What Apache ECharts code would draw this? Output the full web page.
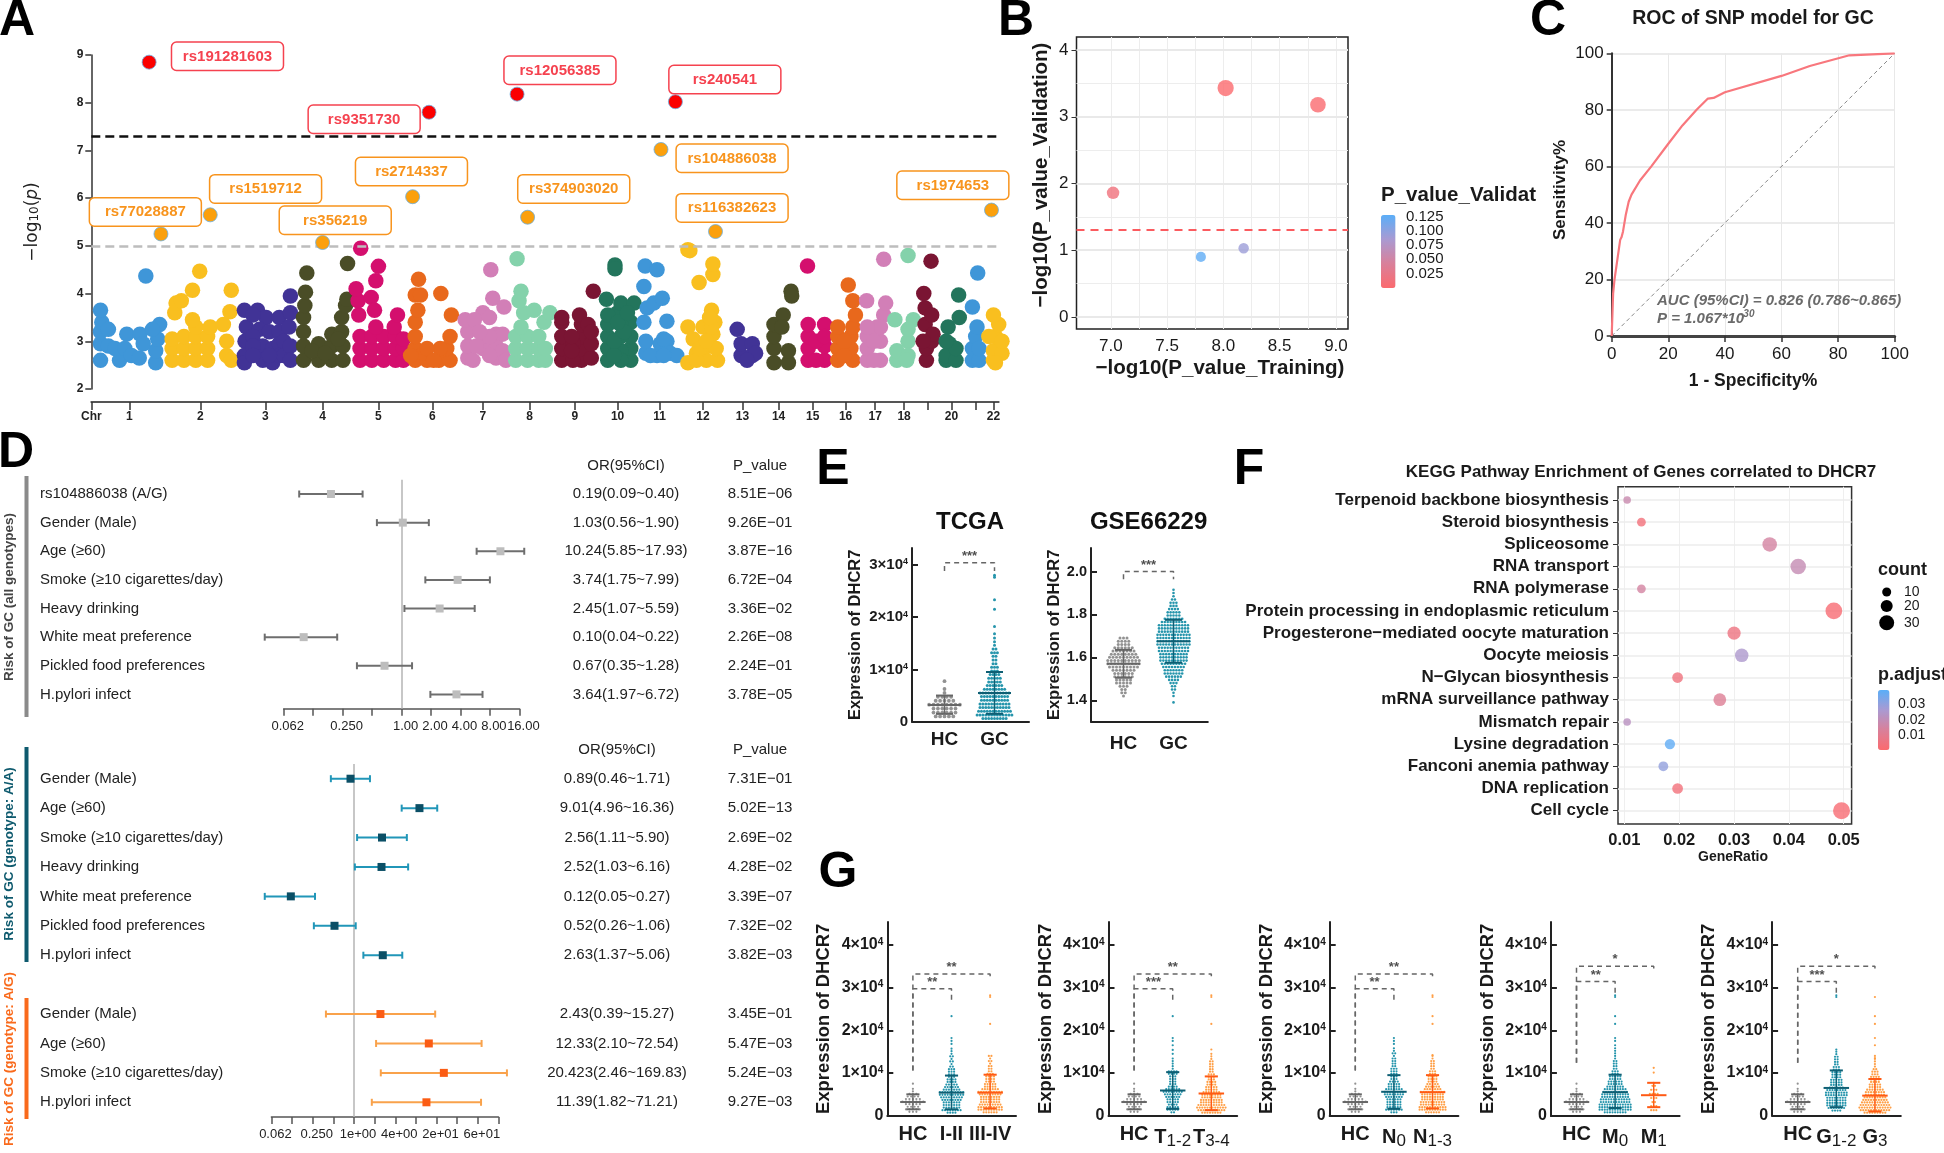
<!DOCTYPE html>
<html>
<head>
<meta charset="utf-8">
<title>DHCR7 figure</title>
<script src="https://cdn.jsdelivr.net/npm/echarts@6/dist/echarts.min.js"></script>
<style>html,body{margin:0;background:#fff}#main{width:1944px;height:1153px}</style>
</head>
<body>
<div id="main"></div>
<script>
// ---- A: manhattan points, [position along genome, -log10 p], one list per chromosome
var chr1 = [[153,2.6],[153,2.95],[153,3.2],[155,3.4],[153,3.65],[165,3.25],[165,2.9],[182,2.6],[175,2.85],[193,3.15],[190,2.85],[200,2.7],[212,2.65],[213,3.15],[218,2.95],[237,2.55],[237,2.8],[240,3.05],[243,3.35],[232,3.25],[222,4.37]];
var chr2 = [[262,2.6],[280,2.6],[298,2.6],[316,2.6],[262,2.85],[280,2.85],[298,2.85],[316,2.85],[262,3.05],[280,3.1],[298,3.1],[316,3.1],[298,3.3],[293,3.45],[320,3.3],[340,3.35],[350,3.62],[345,3.0],[345,2.7],[352,2.6],[266,3.6],[268,3.8],[276,3.85],[293,4.07],[304,4.47],[352,4.07]];
var chr3 = [[372,3.65],[375,3.3],[373,3.0],[372,2.7],[372,2.55],[392,3.65],[405,3.5],[395,3.25],[410,3.2],[400,2.9],[400,2.6],[415,2.85],[415,2.55],[425,3.5],[425,3.2],[425,2.95],[425,2.7],[432,3.0],[432,2.7],[442,3.95],[442,3.6],[440,3.3],[442,2.9],[442,2.6],[385,3.55],[385,3.1],[385,2.9],[385,2.7],[410,2.7]];
var chr4 = [[462,2.6],[462,2.9],[462,3.2],[462,3.5],[464,3.75],[465,4.03],[467,4.43],[485,2.6],[485,2.95],[505,2.6],[505,2.9],[505,3.15],[522,2.6],[522,2.9],[520,3.2],[520,3.5],[526,3.75],[528,3.88],[529,4.63],[475,2.8],[495,2.75],[515,3.05]];
var chr5 = [[548,2.6],[566,2.6],[584,2.6],[602,2.6],[614,2.6],[548,2.85],[566,2.85],[584,2.85],[602,2.85],[614,2.85],[548,3.1],[566,3.1],[584,3.1],[602,3.1],[614,3.05],[546,3.55],[545,3.85],[542,4.1],[565,3.92],[572,3.3],[570,3.65],[572,4.27],[576,4.57],[549,4.95],[600,3.3],[605,3.55]];
var chr6 = [[632,2.6],[632,2.85],[632,3.1],[632,3.4],[636,3.65],[632,3.97],[640,3.97],[637,4.3],[671,4.0],[687,3.55],[650,2.6],[668,2.6],[685,2.6],[680,2.85],[685,3.1],[670,2.85],[645,2.75],[650,2.85],[625,2.7],[660,2.6]];
var chr7 = [[712,2.65],[712,2.9],[712,3.2],[708,3.45],[735,3.6],[722,3.45],[745,3.5],[750,3.9],[747,4.5],[767,3.72],[720,2.6],[735,2.85],[735,3.1],[755,2.65],[755,2.9],[755,3.15],[765,3.15],[765,2.8],[770,2.6],[725,2.9],[745,2.7],[745,3.1],[730,3.2]];
var chr8 = [[785,2.6],[803,2.6],[820,2.6],[830,2.6],[785,2.85],[803,2.85],[820,2.85],[830,2.85],[785,3.1],[803,3.1],[820,3.1],[793,3.3],[797,3.6],[790,3.85],[793,4.05],[813,3.65],[828,3.4],[837,3.6],[787,4.73]];
var chr9 = [[855,2.6],[855,2.85],[855,3.1],[855,3.4],[855,3.5],[885,2.6],[885,2.85],[885,3.1],[885,3.35],[882,3.55],[895,3.35],[872,2.6],[872,2.95],[900,2.65],[900,2.95],[900,3.2],[903,4.05],[870,2.8],[870,3.1]];
var chr10 = [[925,2.6],[925,2.85],[925,3.1],[925,3.35],[923,3.88],[940,3.6],[945,3.8],[965,3.8],[936,4.6],[936,4.52],[960,2.6],[960,2.85],[960,3.1],[960,3.4],[945,2.8],[945,3.1],[945,2.6],[945,3.35],[935,2.7],[935,3.0],[950,3.2],[925,3.55],[940,3.4],[955,3.6]];
var chr11 = [[983,2.75],[983,3.0],[980,3.4],[985,3.7],[995,3.8],[1008,3.9],[980,4.15],[982,4.58],[1000,4.5],[1015,3.42],[1000,2.7],[1015,3.0],[1020,2.75],[1030,2.7],[1005,2.95],[990,2.7],[1010,2.7],[1010,3.05]];
var chr12 = [[1047,2.55],[1047,3.3],[1055,3.05],[1060,2.75],[1075,2.6],[1080,2.9],[1085,3.15],[1088,3.4],[1083,3.65],[1092,2.6],[1090,2.85],[1064,4.23],[1085,4.4],[1085,4.62],[1047,4.92],[1050,4.9],[1070,3.3],[1060,2.6],[1065,2.85],[1075,3.0],[1083,3.3],[1080,3.5]];
var chr13 = [[1122,3.25],[1128,2.7],[1128,2.95],[1145,2.95],[1145,2.7],[1150,2.75],[1137,2.6]];
var chr14 = [[1178,2.55],[1178,2.85],[1178,3.1],[1178,3.35],[1192,3.55],[1204,4.05],[1205,3.95],[1200,2.55],[1200,2.8],[1190,3.3]];
var chr15 = [[1230,2.6],[1230,2.85],[1230,3.1],[1230,3.35],[1255,2.6],[1255,2.9],[1255,3.35],[1229,4.58],[1242,2.6],[1242,3.0],[1255,3.1]];
var chr16 = [[1275,2.6],[1275,2.85],[1275,3.1],[1275,3.3],[1298,2.6],[1295,2.85],[1295,3.1],[1298,3.3],[1302,3.55],[1298,3.85],[1291,4.18],[1285,2.7],[1285,3.0]];
var chr17 = [[1320,2.6],[1320,2.85],[1320,3.1],[1335,3.3],[1340,2.6],[1340,3.0],[1345,3.55],[1319,3.85],[1348,3.8],[1345,4.72],[1330,2.6],[1330,3.0],[1340,3.3],[1320,3.3]];
var chr18 = [[1365,2.6],[1365,2.8],[1382,3.0],[1382,2.7],[1362,3.45],[1390,3.45],[1382,3.25],[1382,4.8],[1380,2.6]];
var chr19 = [[1410,2.6],[1410,2.85],[1418,3.0],[1408,3.35],[1408,3.7],[1418,3.55],[1406,4.0],[1417,4.68],[1420,3.15],[1405,3.0]];
var chr20 = [[1440,2.6],[1445,2.95],[1440,2.7],[1455,2.6],[1443,3.3],[1460,3.5],[1459,3.97],[1455,2.85],[1440,3.0]];
var chr21 = [[1480,2.6],[1480,2.85],[1485,3.1],[1487,3.3],[1480,3.72],[1488,4.43],[1490,2.6],[1490,2.85]];
var chr22 = [[1512,2.6],[1512,2.8],[1515,3.1],[1520,3.35],[1512,3.55],[1505,3.1],[1525,2.75],[1515,2.55],[1525,3.0]];
var chromosomes = [chr1,chr2,chr3,chr4,chr5,chr6,chr7,chr8,chr9,chr10,chr11,chr12,chr13,chr14,chr15,chr16,chr17,chr18,chr19,chr20,chr21,chr22];
var chrColors = ['#3f96d8','#f9bf1f','#413396','#4a4d27','#d40f6e','#e8681c','#d27fb7','#84d2ab','#7a1533','#23755c'];
var genomeWideHits = [[227,8.85],[653,7.8],[787,8.18],[1028,8.02]];
var suggestiveHits = [[245,5.25],[320,5.65],[491,5.07],[628,6.03],[803,5.6],[1006,7.02],[1089,5.3],[1509,5.75]];
var chrTicks = [139,197,305,404,491,576,658,735,806,875,940,1004,1070,1130,1185,1237,1287,1332,1376,1412,1448,1485,1512];
var chrTickLabels = ['Chr','1','2','3','4','5','6','7','8','9','10','11','12','13','14','15','16','17','18','','20','','22'];

// ---- B
var trainingLogP = [7.02,7.8,8.02,8.18,8.84];
var validationLogP = [1.86,0.9,3.43,1.03,3.18];
var validationP = [0.0138,0.126,0.0004,0.093,0.00066];

// ---- C
var rocFpr = [0,0.5,1,2,3,3.5,4,5,6,7,10,14,20,25,30,34,36,40,60,70,84,100];
var rocTpr = [0,15,20,27,34,35,37,43,47.5,50,55,60,68,74.5,80,84,84.2,86.2,92,95.5,99.3,100];

// ---- D: [OR, low, high], text columns as printed
var allRows = ['rs104886038 (A/G)','Gender (Male)','Age (≥60)','Smoke (≥10 cigarettes/day)','Heavy drinking','White meat preference','Pickled food preferences','H.pylori infect'];
var allOr = [[0.19,0.09,0.40],[1.03,0.56,1.90],[10.24,5.85,17.93],[3.74,1.75,7.99],[2.45,1.07,5.59],[0.10,0.04,0.22],[0.67,0.35,1.28],[3.64,1.97,6.72]];
var allOrText = ['0.19(0.09~0.40)','1.03(0.56~1.90)','10.24(5.85~17.93)','3.74(1.75~7.99)','2.45(1.07~5.59)','0.10(0.04~0.22)','0.67(0.35~1.28)','3.64(1.97~6.72)'];
var allP = ['8.51E−06','9.26E−01','3.87E−16','6.72E−04','3.36E−02','2.26E−08','2.24E−01','3.78E−05'];
var subRows = ['Gender (Male)','Age (≥60)','Smoke (≥10 cigarettes/day)','Heavy drinking','White meat preference','Pickled food preferences','H.pylori infect','','Gender (Male)','Age (≥60)','Smoke (≥10 cigarettes/day)','H.pylori infect'];
var aaOr = [[0.89,0.46,1.71],[9.01,4.96,16.36],[2.56,1.11,5.90],[2.52,1.03,6.16],[0.12,0.05,0.27],[0.52,0.26,1.06],[2.63,1.37,5.06]];
var agOr = [[2.43,0.39,15.27],[12.33,2.10,72.54],[20.423,2.46,169.83],[11.39,1.82,71.21]];
var subOrText = ['0.89(0.46~1.71)','9.01(4.96~16.36)','2.56(1.11~5.90)','2.52(1.03~6.16)','0.12(0.05~0.27)','0.52(0.26~1.06)','2.63(1.37~5.06)','','2.43(0.39~15.27)','12.33(2.10~72.54)','20.423(2.46~169.83)','11.39(1.82~71.21)'];
var subP = ['7.31E−01','5.02E−13','2.69E−02','4.28E−02','3.39E−07','7.32E−02','3.82E−03','','3.45E−01','5.47E−03','5.24E−03','9.27E−03'];
var allTickLabels = ['0.062','','0.250','','1.00','2.00','4.00','8.00','16.00'];
var subTickLabels = ['0.062','','0.250','','1e+00','','4e+00','','2e+01','','6e+01',''];

// ---- E: swarm rows, number of dots in each row
var tcgaHc = [5,6,6,8,5,4,1,1,0,1];
var tcgaGc = [9,13,12,11,11,10,10,11,8,6,5,5,4,3,3,2,2,2,3,2,1,1,1];
var tcgaGcTop = [16800,18200,21500,23300,27600,28000];
var gseHc = [1,2,2,3,5,5,6,6,7,9,10,10,9,8,7,6,4,4,3];
var gseGc = [1,0,1,1,2,2,3,4,6,7,7,8,9,10,10,10,11,11,12,12,12,12,11,11,11,9,7,5,5,4,3,3,2,1,1,1];

// ---- F
var keggTerms = ['Terpenoid backbone biosynthesis','Steroid biosynthesis','Spliceosome','RNA transport','RNA polymerase','Protein processing in endoplasmic reticulum','Progesterone−mediated oocyte maturation','Oocyte meiosis','N−Glycan biosynthesis','mRNA surveillance pathway','Mismatch repair','Lysine degradation','Fanconi anemia pathway','DNA replication','Cell cycle'];
var keggRatio = [0.0105,0.0131,0.0365,0.0417,0.0131,0.0482,0.0300,0.0314,0.0197,0.0274,0.0105,0.0183,0.0171,0.0197,0.0496];
var keggCount = [6,8,22,25,8,29,18,19,12,17,6,11,10,12,30];
var keggPadj = [0.018,0.004,0.015,0.019,0.015,0.002,0.006,0.025,0.005,0.012,0.022,0.038,0.030,0.004,0.002];

// ---- G
var hcRows = [3,5,4,5,7,5,4,3,1,1,0,1];
var stageEarly = [4,8,7,7,7,8,9,10,10,7,6,5,4,4,3,3,3,3,2,1,2,1,2,1,1];
var stageEarlyTop = [15700,16800,17500,18200,23300];
var stageLate = [6,10,10,9,8,8,8,9,10,7,5,5,4,4,4,3,2,2,2,1,2,1,2];
var stageLateTop = [21500,27800,28200];
var t12 = [2,5,5,4,5,5,6,7,8,6,4,3,3,3,3,4,4,1,1,1,1,1];
var t12Top = [14500,15400,16500,17500,18200,23300];
var t34 = [8,11,12,11,9,9,8,8,7,5,5,4,4,3,3,3,2,2,2,2,2,1,1];
var t34Top = [14500,15500,21500,27800,28200];
var n0 = [3,7,6,6,6,6,7,8,8,7,5,5,4,3,3,3,3,3,2,2,2,2,1,2,1];
var n0Top = [15800,16800,17500,18200];
var n13 = [6,11,11,10,10,9,9,9,10,7,6,5,4,4,4,3,3,2,2,2,2,1,1];
var n13Top = [14200,21500,23300,27800,28200];
var m0 = [9,13,13,13,12,12,11,11,10,9,7,6,6,5,5,3,3,2,2,2,2,1,1,1,1,1];
var m0Top = [16500,17500,18200,21500,23300,27800,28200];
var m1 = [3,3,2,3,4,3,2];
var m1Top = [7700,10100,11200];
var g12 = [4,7,8,8,8,8,9,9,8,6,5,5,5,4,4,4,3,3,2,2,2,2,1,1];
var g12Top = [15500,27800,28200];
var g3 = [9,12,13,12,11,10,9,8,8,7,5,5,4,4,4,3,3,2,1,1,1,1];
var g3Top = [13500,14000,16500,18200,21500,23300,27800];
// mean, low and high of the error bars
var hcBar = [3200,1500,5000];
var tcgaGcBar = [5500,1500,9500];
var gseHcBar = [1.57,1.505,1.635];
var gseGcBar = [1.675,1.575,1.775];

var FONT = '"Liberation Sans", Arial, sans-serif';
var GREY = '#8c8c8c', GREYBAR = '#666666', TEAL = '#1a8fa8', TEALBAR = '#0e5f74', ORANGE = '#ff9a3c', ORANGEBAR = '#ff5a14';

var option = {
    animation: false,
    backgroundColor: '#fff',
    textStyle: {fontFamily: FONT},
    grid: [], xAxis: [], yAxis: [], series: [], visualMap: [],
    graphic: {elements: []}
};
var gfx = option.graphic.elements;

function addPanel(box, x, ys) {
    var g = option.grid.length;
    box.containLabel = false;
    option.grid.push(box);
    x.gridIndex = g;
    option.xAxis.push(x);
    var xi = option.xAxis.length - 1, yi = option.yAxis.length;
    ys.forEach(function (y) { y.gridIndex = g; option.yAxis.push(y); });
    return {xAxisIndex: xi, yAxisIndex: yi};
}
function addSeries(panel, s) {
    s.xAxisIndex = panel.xAxisIndex;
    s.yAxisIndex = panel.yAxisIndex;
    option.series.push(s);
    return option.series.length - 1;
}
function text(x, y, str, font, fill, opt) {
    opt = opt || {};
    gfx.push({
        type: 'text', x: x, y: y, rotation: opt.rotate ? Math.PI / 2 : 0, z: 100,
        style: {text: str, font: font + ' ' + FONT, fill: fill || '#1a1a1a', textAlign: opt.align || 'center', textVerticalAlign: 'middle'}
    });
}
function rect(x, y, w, h, fill) {
    gfx.push({type: 'rect', shape: {x: x, y: y, width: w, height: h}, style: {fill: fill}, z: 100});
}
function gridLines(panel, key, values, color, width) {
    addSeries(panel, {
        type: 'scatter', data: [], z: 1, silent: true,
        markLine: {
            silent: true, z: 1, symbol: 'none', animation: false, label: {show: false},
            lineStyle: {color: color, width: width, type: 'solid'},
            data: values.map(function (v) { var o = {}; o[key] = v; return o; })
        }
    });
}

// panel letters
[['A',17,21],['B',1016,21],['C',1548,21],['D',16,453],['E',833,470],['F',1249,470],['G',838,873]].forEach(function (l) {
    text(l[1], l[2], l[0], 'bold 50px', '#000');
});

// ---------- A ----------
var pa = addPanel({left: 91.3, top: 55, width: 907.4, height: 334},
    {type: 'value', min: 139, max: 1520, offset: 13, splitLine: {show: false},
     axisLine: {show: true, onZero: false, lineStyle: {color: '#555', width: 2}},
     axisTick: {show: true, customValues: chrTicks, length: 8, lineStyle: {color: '#333', width: 1.5}},
     axisLabel: {customValues: chrTicks.filter(function (t, i) { return chrTickLabels[i]; }), color: '#222', fontSize: 12, fontWeight: 'bold', margin: 9,
        showMinLabel: true, showMaxLabel: true,
        formatter: function (v) { return chrTickLabels[chrTicks.indexOf(v)]; }}},
    [{type: 'value', min: 2, max: 9, interval: 1, splitLine: {show: false},
      name: '{m|−log}{s|10}{m|(}{i|p}{m|)}', nameLocation: 'middle', nameGap: 50,
      nameTextStyle: {rich: {m: {fontSize: 17, fontFamily: 'DejaVu Sans', color: '#222'}, s: {fontSize: 12, fontFamily: 'DejaVu Sans', color: '#222', verticalAlign: 'bottom', padding: [6,0,0,0]}, i: {fontSize: 17, fontFamily: 'DejaVu Sans', fontStyle: 'italic', color: '#222'}}},
      axisLine: {show: true, onZero: false, lineStyle: {color: '#333', width: 1.5}},
      axisTick: {show: true, length: 6, lineStyle: {color: '#333', width: 1.5}},
      axisLabel: {color: '#222', fontSize: 12, fontWeight: 'bold', margin: 8}}]);
chromosomes.forEach(function (pts, i) {
    addSeries(pa, {type: 'scatter', data: pts, symbolSize: 15.5, clip: false, itemStyle: {color: chrColors[i % 10], opacity: 1}, silent: true});
});
addSeries(pa, {type: 'scatter', data: [], z: 3, silent: true, markLine: {silent: true, symbol: 'none', label: {show: false},
    data: [{yAxis: 7.3, lineStyle: {color: '#111', width: 2.5, type: [9, 5]}}, {yAxis: 5, lineStyle: {color: '#bdbdbd', width: 2.5, type: [9, 5]}}]}});
addSeries(pa, {type: 'scatter', z: 6, data: genomeWideHits, symbolSize: 14, silent: true, itemStyle: {color: '#fb0000', opacity: 1, borderColor: '#6aaee2', borderWidth: 0.8}});
addSeries(pa, {type: 'scatter', z: 6, data: suggestiveHits, symbolSize: 14, silent: true, itemStyle: {color: '#fba00d', opacity: 1, borderColor: '#6aaee2', borderWidth: 0.8}});
var RED = '#f5424f', AMB = '#f8941d';
[['rs191281603',261,126,RED],['rs12056385',767,168,RED],['rs240541',1018,196,RED],['rs9351730',469,315,RED],
 ['rs104886038',1029,432,AMB],['rs2714337',541,472,AMB],['rs1519712',319,524,AMB],['rs374903020',788,524,AMB],
 ['rs1974653',1365,513,AMB],['rs77028887',136,593,AMB],['rs116382623',1029,581,AMB],['rs356219',425,618,AMB]].forEach(function (c) {
    var x = c[1] / 1.522, y = c[2] / 3;
    gfx.push({type: 'rect', z: 99, shape: {x: x, y: y, width: 112, height: 28.5, r: 5}, style: {fill: '#fff', stroke: c[3], lineWidth: 1.5}});
    text(x + 56, y + 14.5, c[0], 'bold 15px', c[3]);
});

// ---------- B ----------
var pb = addPanel({left: 1076.5, top: 37, width: 271.5, height: 292, show: true, borderColor: '#222', borderWidth: 1.5},
    {type: 'value', min: 6.695, max: 9.107, splitLine: {show: false},
     axisLine: {show: false}, axisTick: {show: true, customValues: [7,7.5,8,8.5,9], length: 5, lineStyle: {color: '#333'}},
     axisLabel: {customValues: [7,7.5,8,8.5,9], color: '#1a1a1a', fontSize: 17, margin: 9, formatter: function (v) { return v.toFixed(1); }}},
    [{type: 'value', min: -0.18, max: 4.195, splitLine: {show: false},
      axisLine: {show: false}, axisTick: {show: true, customValues: [0,1,2,3,4], length: 5, lineStyle: {color: '#333'}},
      axisLabel: {customValues: [0,1,2,3,4], color: '#1a1a1a', fontSize: 17, margin: 8}}]);
gridLines(pb, 'xAxis', [7,7.25,7.5,7.75,8,8.25,8.5,8.75,9], '#ededed', 1);
gridLines(pb, 'yAxis', [0.5,1.5,2.5,3.5], '#ededed', 1);
gridLines(pb, 'yAxis', [0,1,2,3,4], '#e9e9e9', 2);
var bIdx = addSeries(pb, {
    type: 'scatter', silent: true, z: 3,
    data: trainingLogP.map(function (x, i) { return [x, validationLogP[i], validationP[i]]; }),
    symbolSize: function (v) { return 8 + v[1] * 2.4; },
    markLine: {silent: true, symbol: 'none', label: {show: false}, lineStyle: {color: '#fb5b5f', width: 2, type: [8, 6]}, data: [{yAxis: 1.3}]}
});
option.visualMap.push({type: 'continuous', seriesIndex: bIdx, dimension: 2, min: 0, max: 0.129, left: 1381, top: 215, itemWidth: 14.5, itemHeight: 73, padding: 0, text: null, calculable: false, inRange: {color: ['#fb6a6e', '#d9809a', '#a99ad2', '#5aaef8']}});
text(1041, 175, '−log10(P_value_Validation)', 'bold 20.5px', '#1a1a1a', {rotate: true});
text(1220, 368, '−log10(P_value_Training)', 'bold 20.6px', '#1a1a1a');
text(1381, 195, 'P_value_Validat', 'bold 20.5px', '#1a1a1a', {align: 'left'});
[['0.125',217],['0.100',231],['0.075',245],['0.050',259],['0.025',274]].forEach(function (t) {
    text(1406, t[1], t[0], '15px', '#1a1a1a', {align: 'left'});
});

// ---------- C ----------
var pc = addPanel({left: 1611.7, top: 53.3, width: 283, height: 282.7},
    {type: 'value', min: 0, max: 100, interval: 20, splitLine: {show: true, lineStyle: {color: '#e8e8e8', width: 1}},
     axisLine: {show: true, onZero: false, lineStyle: {color: '#444', width: 3}}, axisTick: {show: true, length: 6, lineStyle: {color: '#333', width: 1.5}},
     axisLabel: {color: '#1a1a1a', fontSize: 17, margin: 10}},
    [{type: 'value', min: 0, max: 100, interval: 20, splitLine: {show: true, lineStyle: {color: '#e4e4e4', width: 1.5}},
      axisLine: {show: true, onZero: false, lineStyle: {color: '#333', width: 2}}, axisTick: {show: true, length: 5, lineStyle: {color: '#333', width: 1.5}},
      axisLabel: {color: '#1a1a1a', fontSize: 17, margin: 8}}]);
addSeries(pc, {type: 'line', data: [[0,0],[100,100]], showSymbol: false, silent: true, lineStyle: {color: '#888', width: 1, type: [4, 3]}});
addSeries(pc, {type: 'line', data: rocFpr.map(function (x, i) { return [x, rocTpr[i]]; }), showSymbol: false, silent: true, lineStyle: {color: '#f8777d', width: 2.2}});
text(1753, 19, 'ROC of SNP model for GC', 'bold 19.5px', '#1a1a1a');
text(1560, 190, 'Sensitivity%', 'bold 17px', '#1a1a1a', {rotate: true});
text(1753, 381, '1 - Specificity%', 'bold 17.5px', '#1a1a1a');
text(1657, 301, 'AUC (95%CI) = 0.826 (0.786~0.865)', 'italic bold 15px', '#6a6a6a', {align: 'left'});
text(1657, 319, 'P = 1.067*10', 'italic bold 15px', '#6a6a6a', {align: 'left'});
text(1740, 314, '-30', 'italic bold 10px', '#6a6a6a', {align: 'left'});

// ---------- D ----------
function forestItem(row, v) { return [Math.log2(v[0]), row, Math.log2(v[1]), Math.log2(v[2])]; }
function forestWhisker(lineColor) {
    return function (params, api) {
        var y = api.value(1);
        var a = api.coord([api.value(2), y]), b = api.coord([api.value(3), y]);
        var st = {stroke: lineColor, lineWidth: 2};
        return {type: 'group', children: [
            {type: 'line', shape: {x1: a[0], y1: a[1], x2: b[0], y2: b[1]}, style: st},
            {type: 'line', shape: {x1: a[0], y1: a[1] - 3.5, x2: a[0], y2: a[1] + 3.5}, style: st},
            {type: 'line', shape: {x1: b[0], y1: b[1] - 3.5, x2: b[0], y2: b[1] + 3.5}, style: st}
        ]};
    };
}
function forestPanel(box, xMax, tickLabels, rows, orText, pText) {
    var catAxis = function (data, pos, margin, align) {
        return {type: 'category', data: data, inverse: true, position: pos, boundaryGap: true,
            axisLine: {show: false}, axisTick: {show: false}, splitLine: {show: false},
            axisLabel: {interval: 0, color: '#222', fontSize: 15, margin: margin, align: align}};
    };
    var orX = box.orX;
    delete box.orX;
    return addPanel(box,
        {type: 'value', min: -4, max: xMax, interval: 1, splitLine: {show: false}, position: 'bottom',
         axisLine: {show: true, onZero: false, lineStyle: {color: '#555', width: 1.5}},
         axisTick: {show: true, length: 7, lineStyle: {color: '#555', width: 1.5}},
         axisLabel: {color: '#222', fontSize: 13, margin: 11, padding: [0,0,0,8], showMinLabel: true, showMaxLabel: true,
            formatter: function (v) { return tickLabels[v + 4] || ''; }}},
        [catAxis(rows, 'left', box.left - 40, 'left'),
         catAxis(orText, 'right', orX - box.left - box.width, 'center'),
         catAxis(pText, 'right', 760 - box.left - box.width, 'center')]);
}
function forestSeries(panel, items, lineColor, boxColor, refLine) {
    addSeries(panel, {type: 'custom', z: 3, silent: true, clip: false, data: items, encode: {x: 0, y: 1}, renderItem: forestWhisker(lineColor)});
    var s = {type: 'scatter', z: 4, silent: true, clip: false, data: items.map(function (d) { return [d[0], d[1]]; }), symbol: 'rect', symbolSize: 8, itemStyle: {color: boxColor, opacity: 1}};
    if (refLine) s.markLine = {silent: true, z: 1, symbol: 'none', label: {show: false}, lineStyle: {color: '#b5b5b5', width: 1.5, type: 'solid'}, data: [{xAxis: 0}]};
    addSeries(panel, s);
}
var pd1 = forestPanel({left: 283.7, top: 479.7, width: 235.7, height: 229, orX: 626}, 4, allTickLabels, allRows, allOrText, allP);
forestSeries(pd1, allOr.map(function (v, i) { return forestItem(i, v); }), '#6e6e6e', '#bdbdbd', true);
var pd2 = forestPanel({left: 271.4, top: 764, width: 227.1, height: 353, orX: 617}, 7, subTickLabels, subRows, subOrText, subP);
forestSeries(pd2, aaOr.map(function (v, i) { return forestItem(i, v); }), '#2196b8', '#0b4f66', true);
forestSeries(pd2, agOr.map(function (v, i) { return forestItem(i + 8, v); }), '#f9a24b', '#fb5c14', false);
text(626, 466, 'OR(95%CI)', '15px', '#222');
text(760, 466, 'P_value', '15px', '#222');
text(617, 750, 'OR(95%CI)', '15px', '#222');
text(760, 750, 'P_value', '15px', '#222');
rect(24.5, 476, 4, 241, '#8a8a8a');
rect(24.5, 747, 4, 215, '#0e5a6e');
rect(24.5, 998, 4, 121, '#f96a1c');
text(9, 597, 'Risk of GC (all genotypes)', 'bold 13.5px', '#444', {rotate: true});
text(9, 854, 'Risk of GC (genotype: A/A)', 'bold 13.5px', '#0e5a6e', {rotate: true});
text(9, 1059, 'Risk of GC (genotype: A/G)', 'bold 13.5px', '#f96a1c', {rotate: true});

// ---------- E and G: swarms ----------
function swarm(rows, first, step, top, center, dx) {
    var pts = [];
    rows.forEach(function (n, r) {
        for (var k = 0; k < n; k++) pts.push([center + (k - (n - 1) / 2) * dx, first + r * step]);
    });
    (top || []).forEach(function (v) { pts.push([center, v]); });
    return pts;
}
function meanBar(color) {
    return function (params, api) {
        var x = api.value(0);
        var m = api.coord([x, api.value(1)]), lo = api.coord([x, api.value(2)]), hi = api.coord([x, api.value(3)]);
        var u = api.size([1, 0])[0];
        var line = function (x1, y1, x2, y2, lw) { return {type: 'line', shape: {x1: x1, y1: y1, x2: x2, y2: y2}, style: {stroke: color, lineWidth: lw}}; };
        return {type: 'group', children: [
            line(m[0], lo[1], m[0], hi[1], 1.4),
            line(m[0] - 0.33 * u, m[1], m[0] + 0.33 * u, m[1], 2),
            line(m[0] - 0.17 * u, lo[1], m[0] + 0.17 * u, lo[1], 2),
            line(m[0] - 0.17 * u, hi[1], m[0] + 0.17 * u, hi[1], 2)
        ]};
    };
}
function groupSeries(panel, pts, bar, x, color, barColor, size) {
    addSeries(panel, {type: 'scatter', z: 2, silent: true, clip: false, data: pts, symbolSize: size, itemStyle: {color: color, opacity: 0.95}});
    addSeries(panel, {type: 'custom', z: 3, silent: true, clip: false, data: [[x, bar[0], bar[1], bar[2]]], encode: {x: 0, y: 1}, renderItem: meanBar(barColor)});
}
function bracket(panel, x1, x2, top, legLeft, legRight, stars) {
    addSeries(panel, {type: 'line', z: 4, silent: true, clip: false, showSymbol: false, data: [[x1, legLeft], [x1, top], [x2, top], [x2, legRight]], lineStyle: {color: '#666', width: 1.5, type: [5, 4]}});
    addSeries(panel, {type: 'scatter', z: 4, silent: true, clip: false, symbolSize: 0, data: [[(x1 + x2) / 2, top]],
        label: {show: true, position: 'top', distance: 0, formatter: stars, fontSize: 13, fontWeight: 'bold', color: '#222'}});
}
function expressionAxis(size, gap, ticks, fmt, rich) {
    return {type: 'value', min: ticks.min, max: ticks.max, splitLine: {show: false},
        name: 'Expression of DHCR7', nameLocation: 'middle', nameGap: gap,
        nameTextStyle: {fontSize: size.name, fontWeight: 'bold', color: '#1a1a1a'},
        axisLine: {show: true, onZero: false, lineStyle: {color: '#222', width: 2}},
        axisTick: {show: true, inside: true, customValues: ticks.values, length: 6, lineStyle: {color: '#222', width: 2}},
        axisLabel: {customValues: ticks.values, formatter: fmt, rich: rich, margin: 4, color: '#1a1a1a', fontSize: size.tick, fontWeight: 'bold'}};
}
function groupAxis(min, max, centers, labels, fontSize, margin) {
    return {type: 'value', min: min, max: max, splitLine: {show: false},
        axisLine: {show: true, onZero: false, lineStyle: {color: '#222', width: 2}}, axisTick: {show: false},
        axisLabel: {customValues: centers, margin: margin, formatter: function (v) { return labels[centers.indexOf(v)]; },
            rich: {
                b: {fontSize: fontSize, fontWeight: 'bold', color: '#1a1a1a'},
                s: {fontSize: fontSize - 3, color: '#1a1a1a', verticalAlign: 'bottom', padding: [8, 0, 0, 0]}
            }}};
}
function sciLabel(v) { return v === 0 ? '{b|0}' : '{b|' + v / 10000 + '×10}{s|4}'; }
function sciRich(b, s) {
    return {b: {fontSize: b, fontWeight: 'bold', color: '#1a1a1a'}, s: {fontSize: s, fontWeight: 'bold', color: '#1a1a1a', verticalAlign: 'top'}};
}

var pe1 = addPanel({left: 912, top: 548, width: 117, height: 173.7},
    groupAxis(-0.65, 1.69, [0, 1], ['{b|HC}', '{b|GC}'], 19, 9),
    [expressionAxis({name: 16.5, tick: 15}, 48, {min: 0, max: 33200, values: [0, 10000, 20000, 30000]}, sciLabel, sciRich(15, 9))]);
groupSeries(pe1, swarm(tcgaHc, 1000, 750, [], 0, 0.088), hcBar, 0, GREY, GREYBAR, 3.8);
groupSeries(pe1, swarm(tcgaGc, 600, 700, tcgaGcTop, 1, 0.058), tcgaGcBar, 1, TEAL, TEALBAR, 3);
bracket(pe1, 0, 1, 30400, 28800, 28800, '***');
var pe2 = addPanel({left: 1091, top: 548, width: 116.8, height: 173.7},
    groupAxis(-0.65, 1.686, [0, 1], ['{b|HC}', '{b|GC}'], 19, 13),
    [expressionAxis({name: 16.5, tick: 14.5}, 28, {min: 1.3, max: 2.11, values: [1.4, 1.6, 1.8, 2.0]}, function (v) { return v.toFixed(1); })]);
groupSeries(pe2, swarm(gseHc, 1.42, 0.015, [], 0, 0.07), gseHcBar, 0, GREY, GREYBAR, 3);
groupSeries(pe2, swarm(gseGc, 1.39, 0.015, [], 1, 0.058), gseGcBar, 1, TEAL, TEALBAR, 2.6);
bracket(pe2, 0, 1, 2.0, 1.964, 1.964, '***');
text(970, 522, 'TCGA', 'bold 24px', '#111');
text(1148.6, 522, 'GSE66229', 'bold 24px', '#111');

var stagePanels = [
    {labels: ['{b|HC}', '{b|I-II}', '{b|III-IV}'], mid: [stageEarly, 700, stageEarlyTop, [5400, 1500, 9400]], far: [stageLate, 800, stageLateTop, [5400, 1700, 9600]], stars: ['**', '**'], nearTop: 29700, farTop: 33200, hcLeg: 10600, nearLeg: 27000, farLeg: 32000},
    {labels: ['{b|HC}', '{b|T}{s|1-2}', '{b|T}{s|3-4}'], mid: [t12, 800, t12Top, [5900, 1600, 10200]], far: [t34, 700, t34Top, [5200, 1300, 9200]], stars: ['***', '**'], nearTop: 29700, farTop: 33200, hcLeg: 10600, nearLeg: 27000, farLeg: 32000},
    {labels: ['{b|HC}', '{b|N}{s|0}', '{b|N}{s|1-3}'], mid: [n0, 800, n0Top, [5600, 1600, 9500]], far: [n13, 800, n13Top, [5500, 1700, 9500]], stars: ['**', '**'], nearTop: 29700, farTop: 33200, hcLeg: 10600, nearLeg: 27000, farLeg: 32000},
    {labels: ['{b|HC}', '{b|M}{s|0}', '{b|M}{s|1}'], mid: [m0, 800, m0Top, [5500, 1800, 9600]], far: [m1, 1300, m1Top, [4800, 2000, 7700]], stars: ['**', '*'], nearTop: 31400, farTop: 35000, hcLeg: 12400, nearLeg: 28500, farLeg: 34100, step: 950},
    {labels: ['{b|HC}', '{b|G}{s|1-2}', '{b|G}{s|3}'], mid: [g12, 1200, g12Top, [6500, 2000, 10600]], far: [g3, 700, g3Top, [4700, 1000, 8600]], stars: ['***', '*'], nearTop: 31400, farTop: 35000, hcLeg: 12400, nearLeg: 28500, farLeg: 34100}
];
stagePanels.forEach(function (d, i) {
    var p = addPanel({left: 887.3 + 221.2 * i, top: 922, width: 128.7, height: 193.7},
        groupAxis(-0.663, 2.67, [0, 1, 2], d.labels, 20, 9),
        [expressionAxis({name: 18.4, tick: 16}, 54, {min: 0, max: 45360, values: [0, 10000, 20000, 30000, 40000]}, sciLabel, sciRich(16, 10))]);
    groupSeries(p, swarm(hcRows, 900, 600, [], 0, 0.09), hcBar, 0, GREY, GREYBAR, 2.2);
    groupSeries(p, swarm(d.mid[0], d.mid[1], 600, d.mid[2], 1, 0.067), d.mid[3], 1, TEAL, TEALBAR, 2.2);
    groupSeries(p, swarm(d.far[0], d.far[1], d.step || 600, d.far[2], 2, 0.067), d.far[3], 2, ORANGE, ORANGEBAR, 2.2);
    bracket(p, 0, 1, d.nearTop, d.hcLeg, d.nearLeg, d.stars[0]);
    bracket(p, 0, 2, d.farTop, d.hcLeg, d.farLeg, d.stars[1]);
});

// ---------- F ----------
var rowIds = keggTerms.map(function (t, i) { return i; });
var pf = addPanel({left: 1618, top: 486.7, width: 233.6, height: 337.3, show: true, borderColor: '#333', borderWidth: 1.5},
    {type: 'value', min: 0.00883, max: 0.05144, splitLine: {show: false},
     axisLine: {show: false}, axisTick: {show: true, customValues: [0.01,0.02,0.03,0.04,0.05], length: 5, lineStyle: {color: '#333'}},
     axisLabel: {customValues: [0.01,0.02,0.03,0.04,0.05], color: '#1a1a1a', fontSize: 16.5, fontWeight: 'bold', margin: 8, formatter: function (v) { return v.toFixed(2); }}},
    [{type: 'value', min: -0.6, max: 14.6, inverse: true, splitLine: {show: false},
      axisLine: {show: false}, axisTick: {show: true, customValues: rowIds, length: 5, lineStyle: {color: '#333'}},
      axisLabel: {customValues: rowIds, color: '#1a1a1a', fontSize: 17, fontWeight: 'bold', margin: 9, formatter: function (v) { return keggTerms[v]; }}}]);
gridLines(pf, 'xAxis', [0.01,0.015,0.02,0.025,0.03,0.035,0.04,0.045,0.05], '#efefef', 1);
gridLines(pf, 'yAxis', rowIds, '#ececec', 1.6);
var fIdx = addSeries(pf, {
    type: 'scatter', silent: true, z: 3,
    data: keggRatio.map(function (x, i) { return [x, i, keggCount[i], keggPadj[i]]; }),
    symbolSize: function (v) { return 3.1 * Math.sqrt(v[2]); }
});
option.visualMap.push({type: 'continuous', seriesIndex: fIdx, dimension: 3, min: 0.0006, max: 0.039, left: 1878, top: 690, itemWidth: 11.5, itemHeight: 60, padding: 0, text: null, calculable: false, inRange: {color: ['#fb6a6e', '#d9809a', '#a99ad2', '#5aaef8']}});
text(1641, 472, 'KEGG Pathway Enrichment of Genes correlated to DHCR7', 'bold 17px', '#1a1a1a');
text(1733, 857, 'GeneRatio', 'bold 14px', '#1a1a1a');
text(1878, 570, 'count', 'bold 18px', '#1a1a1a', {align: 'left'});
text(1878, 675, 'p.adjust', 'bold 18px', '#1a1a1a', {align: 'left'});
[[10, 592, 9], [20, 606, 12], [30, 622.7, 15]].forEach(function (c) {
    gfx.push({type: 'circle', z: 100, shape: {cx: 1886.7, cy: c[1], r: c[2] / 2}, style: {fill: '#000'}});
    text(1904, c[1] + 0.5, String(c[0]), '14px', '#1a1a1a', {align: 'left'});
});
[['0.03', 704], ['0.02', 720], ['0.01', 735.3]].forEach(function (t) {
    text(1898, t[1], t[0], '14px', '#1a1a1a', {align: 'left'});
});

var myChart = echarts.init(document.getElementById('main'));
myChart.setOption(option);
</script>
</body>
</html>
